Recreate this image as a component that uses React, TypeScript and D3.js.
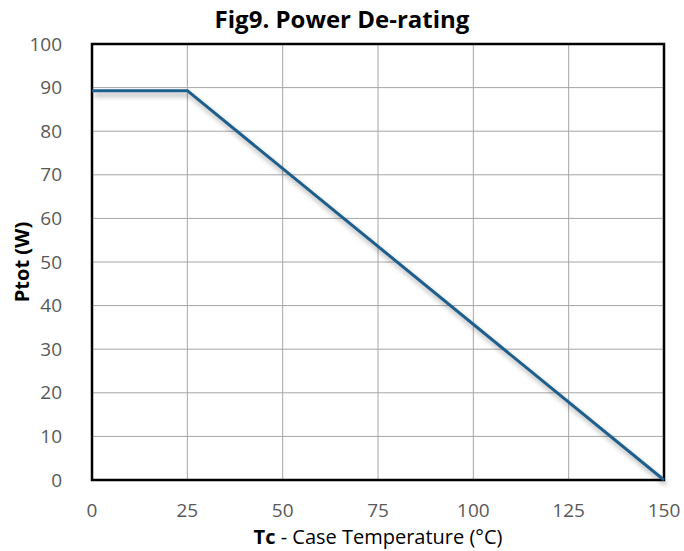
import * as d3 from 'd3'
import React from 'react'

const tempPoints = [0, 25, 150]
const powerPoints = [89.3, 89.3, 0]
const xTicks = [0, 25, 50, 75, 100, 125, 150]
const yTicks = [0, 10, 20, 30, 40, 50, 60, 70, 80, 90, 100]

const width = 684
const height = 551
const margin = { top: 44, right: 20, bottom: 71, left: 92 }
const font = '"Open Sans", Lato, sans-serif'

const App: React.FC = () => {
  const innerW = 664 - margin.left
  const innerH = 480 - margin.top

  const x = d3.scaleLinear().domain([0, 150]).range([0, innerW])
  const y = d3.scaleLinear().domain([0, 100]).range([innerH, 0])

  const data = tempPoints.map((t, i) => ({ t, p: powerPoints[i] }))
  const line = d3
    .line<{ t: number; p: number }>()
    .x((d) => x(d.t))
    .y((d) => y(d.p))

  return (
    <svg width={width} height={height} style={{ display: 'block', position: 'absolute', left: 0, top: 0 }}>
      <defs>
        <filter id='shadow' x='-10%' y='-10%' width='120%' height='130%'>
          <feGaussianBlur stdDeviation='2.5' />
        </filter>
      </defs>
      <rect width={width} height={height} fill='#fff' />
      <text x={342} y={28} textAnchor='middle' fontFamily={font} fontWeight='bold' fontSize={24} fill='#000'>
        Fig9. Power De-rating
      </text>
      <g transform={`translate(${margin.left},${margin.top})`}>
        {/* grid */}
        {xTicks.map((t) => (
          <line key={'gx' + t} x1={x(t)} x2={x(t)} y1={0} y2={innerH} stroke='#a6a6a6' strokeWidth={1} />
        ))}
        {yTicks.map((t) => (
          <line key={'gy' + t} x1={0} x2={innerW} y1={y(t)} y2={y(t)} stroke='#a6a6a6' strokeWidth={1} />
        ))}
        {/* shadow of the line */}
        <path
          d={line(data) || ''}
          fill='none'
          stroke='#000'
          strokeOpacity={0.35}
          strokeWidth={3}
          filter='url(#shadow)'
          transform='translate(2,4)'
        />
        <rect x={0} y={0} width={innerW} height={innerH} fill='none' stroke='#000' strokeWidth={2.5} />
        <path d={line(data) || ''} fill='none' stroke='#1c5f8e' strokeWidth={3} strokeLinejoin='round' />
        {/* y tick labels */}
        {yTicks.map((t) => (
          <text
            key={'ly' + t}
            x={-30}
            y={y(t)}
            dy='0.35em'
            textAnchor='end'
            fontFamily={font}
            fontSize={19}
            fill='#595959'
          >
            {t}
          </text>
        ))}
        {/* x tick labels */}
        {xTicks.map((t) => (
          <text
            key={'lx' + t}
            x={x(t)}
            y={innerH + 30}
            dy='0.35em'
            textAnchor='middle'
            fontFamily={font}
            fontSize={19}
            fill='#595959'
          >
            {t}
          </text>
        ))}
        <text x={innerW / 2} y={innerH + 57} dy='0.35em' textAnchor='middle' fontFamily={font} fontSize={20} fill='#000'>
          <tspan fontWeight='bold'>Tc</tspan>
          <tspan> - Case Temperature (°C)</tspan>
        </text>
        <text
          transform={`translate(${22 - margin.left},${innerH / 2}) rotate(-90)`}
          dy='0.35em'
          textAnchor='middle'
          fontFamily={font}
          fontWeight='bold'
          fontSize={20}
          fill='#000'
        >
          Ptot (W)
        </text>
      </g>
    </svg>
  )
}

export default App
